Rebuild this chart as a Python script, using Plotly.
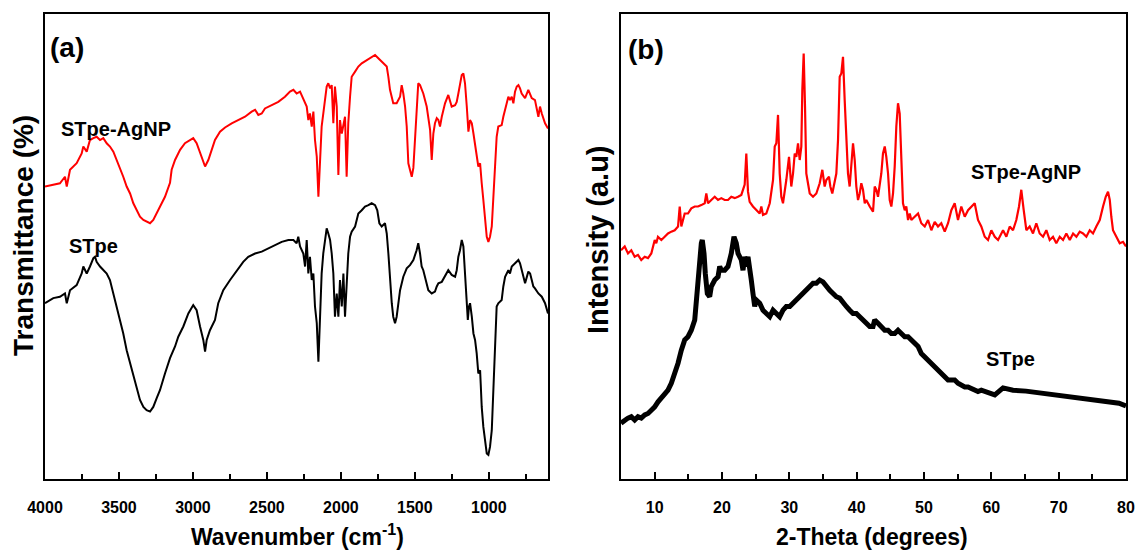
import plotly.graph_objects as go

# ---------------- FTIR (panel a) ----------------
ftir_wn_agnp = [4000,3944,3899,3865,3853,3831,3786,3752,3741,3718,
    3696,3673,3651,3628,3606,3583,3561,3538,3515,3493,
    3471,3448,3425,3403,3380,3358,3335,3313,3290,3268,
    3245,3223,3189,3155,3144,3121,3087,3054,3020,2998,
    2975,2941,2918,2896,2873,2851,2817,2783,2738,2693,
    2648,2603,2580,2558,2535,2513,2490,2468,2423,2378,
    2344,2321,2299,2276,2254,2231,2220,2209,2197,2186,
    2175,2163,2152,2141,2130,2119,2107,2096,2085,2073,
    2062,2051,2040,2028,2017,2006,1994,1983,1972,1961,
    1950,1938,1927,1904,1882,1859,1825,1792,1769,1747,
    1713,1690,1679,1668,1646,1623,1600,1589,1578,1566,
    1555,1544,1533,1521,1510,1499,1488,1477,1465,1443,
    1420,1409,1397,1386,1375,1364,1352,1341,1330,1318,
    1296,1274,1262,1251,1228,1217,1206,1195,1183,1172,
    1161,1149,1138,1127,1115,1104,1093,1082,1071,1059,
    1055,1048,1037,1026,1014,1003,992,980,969,958,
    947,936,913,902,890,868,857,845,834,823,
    811,800,789,778,755,733,710,688,665,654,
    642,620,600]
ftir_t_agnp = [62.9,63.2,63.6,65.0,62.9,66.5,67.9,70.0,71.5,70.4,
    72.9,73.3,73.6,72.9,73.3,72.2,71.5,70.4,68.6,66.8,
    65.0,62.9,61.4,59.3,57.8,56.4,55.7,55.3,55.0,55.7,
    57.1,58.6,60.7,63.7,66.5,68.6,70.8,72.2,72.9,73.3,
    72.2,69.3,67.2,68.6,70.8,72.9,74.7,75.6,76.5,77.2,
    77.9,79.0,79.4,78.3,78.6,79.7,80.1,80.4,81.1,82.2,
    83.3,83.7,82.9,83.3,81.9,80.1,77.2,78.6,75.8,79.0,
    72.9,69.3,60.7,68.6,75.8,78.6,82.2,84.4,85.1,84.0,
    84.7,76.5,84.4,80.1,65.4,77.2,74.3,76.5,77.9,65.0,
    76.5,82.2,86.5,87.6,88.7,89.4,90.1,90.8,91.2,90.5,
    89.4,88.7,86.5,83.7,80.8,80.8,82.2,84.7,82.9,80.1,
    75.8,67.9,66.5,65.0,66.9,72.9,80.1,85.1,84.7,82.9,
    80.1,77.2,75.1,68.6,74.3,76.5,77.6,77.2,75.8,77.9,
    80.8,82.6,81.5,80.1,80.4,81.1,82.9,85.1,86.9,87.2,
    85.1,80.1,74.7,77.2,76.5,74.3,72.2,70.0,67.2,67.9,
    65.7,63.6,60.0,56.4,52.1,51.0,52.1,54.3,60.0,67.2,
    73.6,75.8,76.1,77.9,79.4,82.2,81.5,82.2,80.8,83.3,
    84.4,84.7,84.0,82.9,81.9,83.7,81.9,81.5,77.9,80.1,
    78.6,76.5,75.4]

ftir_wn_stpe = [4000,3944,3899,3865,3853,3831,3786,3752,3741,3718,
    3696,3673,3662,3651,3628,3606,3583,3561,3538,3515,
    3493,3471,3448,3425,3403,3380,3358,3335,3313,3290,
    3268,3245,3223,3189,3155,3121,3099,3065,3031,2998,
    2975,2952,2930,2918,2907,2885,2851,2829,2795,2749,
    2704,2660,2626,2580,2535,2490,2445,2400,2355,2321,
    2299,2288,2276,2254,2242,2231,2220,2209,2197,2186,
    2175,2163,2152,2141,2130,2119,2107,2096,2085,2073,
    2062,2051,2040,2028,2017,2006,1994,1983,1972,1961,
    1950,1938,1927,1904,1882,1859,1837,1814,1792,1769,
    1754,1740,1724,1702,1690,1679,1668,1656,1646,1634,
    1623,1612,1600,1578,1555,1533,1510,1488,1477,1465,
    1454,1443,1431,1420,1409,1386,1364,1352,1341,1318,
    1296,1274,1251,1228,1217,1206,1195,1183,1172,1161,
    1149,1142,1134,1127,1115,1104,1093,1082,1071,1059,
    1055,1048,1037,1026,1014,1003,992,980,969,958,
    947,936,913,902,890,868,857,845,823,800,
    789,778,755,733,721,710,699,688,665,642,
    620,600]
ftir_t_stpe = [37.8,38.9,39.2,39.9,37.8,40.6,41.7,44.2,45.7,44.2,
    45.7,47.5,47.8,46.7,45.7,44.9,44.2,42.8,39.9,37.1,
    34.2,31.3,27.7,24.9,22.0,19.1,17.0,15.5,14.8,14.5,
    15.5,17.4,19.1,22.7,26.0,28.5,30.6,32.8,35.6,37.4,
    36.3,32.8,29.9,27.4,29.9,32.0,34.2,37.8,40.6,42.8,
    44.9,46.7,47.8,48.5,48.9,49.6,50.3,51.0,51.4,51.4,
    50.7,52.1,50.0,48.5,45.7,51.4,44.2,47.8,42.8,44.2,
    37.1,33.5,25.2,35.6,44.2,48.5,51.4,53.9,52.8,51.4,
    48.5,44.2,34.9,39.9,34.9,42.8,37.1,44.2,34.9,42.8,
    48.5,52.1,53.2,54.3,57.1,57.8,58.6,58.9,59.3,58.9,
    57.8,55.0,54.3,55.0,52.8,48.5,42.8,37.8,34.9,33.5,
    34.9,37.8,40.6,43.5,45.3,46.0,47.1,49.2,50.7,48.5,
    45.7,44.9,43.5,42.1,40.6,39.9,40.3,41.4,42.1,42.4,
    43.5,44.9,43.9,43.5,44.9,47.8,49.2,51.4,50.0,44.2,
    38.5,34.2,37.1,37.8,34.9,31.3,29.9,27.0,22.7,23.4,
    20.6,15.5,11.2,7.7,5.5,5.2,6.9,10.5,19.1,29.9,
    37.1,37.8,38.5,41.4,43.5,44.9,44.2,45.7,46.4,47.1,
    46.4,44.9,42.1,44.6,44.2,42.8,41.4,41.0,39.9,39.2,
    37.8,35.6]

# ---------------- XRD (panel b) ----------------
xrd_2t_agnp = [5.0,5.55,6.04,6.53,7.03,7.52,8.01,8.52,9.01,9.50,
    10.01,10.24,10.49,10.99,11.49,11.98,12.47,12.98,13.47,13.72,
    13.96,14.46,14.95,15.44,15.95,16.44,16.93,17.43,17.67,17.92,
    18.41,18.92,19.41,19.90,20.40,20.89,21.38,21.89,22.38,22.87,
    23.37,23.61,23.86,24.11,24.60,25.09,25.60,25.84,26.09,26.58,
    27.09,27.58,27.83,28.07,28.32,28.57,28.81,29.06,29.31,29.55,
    29.95,30.14,30.29,30.55,30.80,31.04,31.29,31.54,31.78,31.93,
    32.13,32.33,32.52,32.77,33.03,33.52,34.01,34.51,34.90,35.25,
    35.49,35.89,36.09,36.38,36.74,36.98,37.23,37.48,37.72,37.97,
    38.22,38.46,38.71,38.96,39.20,39.46,39.71,39.95,40.20,40.45,
    40.69,40.94,41.20,41.43,41.94,42.43,42.68,42.92,43.17,43.42,
    43.66,43.91,44.17,44.40,44.66,44.91,45.15,45.40,45.65,45.89,
    46.14,46.39,46.63,46.88,47.14,47.37,47.63,47.88,48.12,48.63,
    49.12,49.60,50.11,50.60,51.09,51.59,52.08,52.57,53.08,53.57,
    54.06,54.56,54.80,55.05,55.54,56.05,56.54,57.03,57.53,58.02,
    58.51,59.02,59.51,60.00,60.51,61.00,61.74,62.23,62.73,63.22,
    63.71,64.11,64.45,64.81,65.20,65.70,66.19,66.68,67.18,67.68,
    68.17,68.67,69.16,69.65,70.16,70.65,71.14,71.65,72.14,72.63,
    73.13,73.62,74.11,74.61,75.10,75.59,76.10,76.59,76.99,77.33,
    77.59,77.82,78.07,78.57,79.07,79.56,80.0]
xrd_i_agnp = [49.2,50.0,48.5,49.2,47.8,48.2,47.1,47.8,47.5,48.5,
    51.4,50.7,52.1,51.4,52.1,52.8,53.2,53.5,54.3,58.6,
    54.3,57.1,57.1,58.2,58.6,58.6,58.9,59.3,61.4,59.3,
    60.0,60.7,60.0,60.4,60.0,60.0,60.7,60.4,60.7,61.1,
    63.3,70.0,61.8,59.6,58.6,57.8,57.1,58.6,56.8,57.1,
    59.3,64.3,71.5,72.2,78.3,65.7,60.7,59.3,61.4,64.3,
    69.3,64.3,62.9,65.7,70.0,69.3,72.2,68.6,71.5,83.7,
    91.5,80.1,65.7,63.6,61.4,60.7,61.4,63.6,66.5,62.9,
    64.3,65.0,62.9,61.4,64.3,65.7,72.9,86.5,87.2,90.8,
    81.5,72.9,65.7,62.9,67.2,72.2,68.6,62.9,60.0,61.4,
    63.6,62.2,59.3,60.0,58.6,57.5,62.9,62.2,60.7,62.9,
    65.7,70.0,71.5,69.3,65.7,60.0,58.6,61.4,67.2,75.8,
    80.8,78.6,67.2,59.3,57.8,58.6,55.7,57.1,55.7,56.4,
    57.1,55.0,54.3,55.7,53.5,55.3,54.3,55.0,53.2,55.0,
    57.8,59.3,57.1,55.7,58.6,56.4,57.8,58.6,59.3,55.7,
    54.3,52.1,51.4,53.5,52.1,51.4,53.5,52.1,54.3,53.5,
    55.7,58.6,62.2,57.8,53.5,54.3,52.8,55.0,52.8,52.1,
    53.5,51.4,52.1,50.7,52.1,51.4,52.8,51.4,52.8,52.1,
    53.2,52.8,52.1,53.5,52.8,54.3,55.7,58.6,60.7,61.8,
    60.0,56.4,53.5,52.1,50.7,51.0,50.0]

xrd_2t_stpe = [5.0,5.55,6.04,6.53,7.03,7.52,8.01,8.52,9.01,9.50,
    10.01,10.50,10.99,11.49,11.98,12.47,12.98,13.47,13.96,14.46,
    14.95,15.44,15.95,16.18,16.44,16.69,16.93,17.07,17.33,17.52,
    17.82,18.17,18.41,18.92,19.41,19.66,19.90,20.40,20.89,21.38,
    21.78,22.12,22.38,22.87,23.12,23.37,23.61,23.86,24.11,24.35,
    24.60,24.86,25.09,25.60,26.09,26.58,27.09,27.58,28.07,28.57,
    29.06,29.55,30.06,30.55,31.04,31.54,32.03,32.52,33.03,33.52,
    34.01,34.51,35.00,35.49,36.00,36.49,36.98,37.48,37.97,38.46,
    38.97,39.46,39.95,40.45,40.94,41.43,41.94,42.43,42.68,43.17,
    43.66,44.17,44.66,45.15,45.65,46.14,46.63,47.14,47.63,48.12,
    48.63,49.12,49.60,50.11,50.60,51.09,51.59,52.08,52.57,53.08,
    53.57,54.06,54.56,55.05,55.54,56.05,56.54,57.03,57.53,58.02,
    58.51,59.02,59.51,60.00,60.51,61.74,63.22,65.15,67.23,69.16,
    71.09,73.17,75.10,77.03,78.96,80.0]
xrd_i_stpe = [12.0,12.7,13.1,13.4,12.7,13.4,13.1,13.8,14.1,14.8,
    15.5,16.6,17.4,18.4,19.1,20.6,22.7,24.9,27.7,29.9,
    30.6,32.0,34.2,38.5,42.8,47.1,50.7,51.4,48.5,44.2,
    39.9,39.2,41.4,42.8,43.5,45.7,44.9,44.9,45.7,48.5,
    52.1,50.7,48.5,47.1,44.9,47.8,45.7,47.8,45.7,42.8,
    39.9,37.1,38.5,37.8,36.3,35.6,34.9,36.3,35.6,34.9,
    36.3,37.1,37.1,37.8,38.5,39.2,39.9,40.6,41.4,42.1,
    42.1,42.8,42.4,41.4,40.6,39.9,39.2,38.9,37.8,37.1,
    36.3,35.6,35.6,34.9,34.2,33.5,32.8,32.8,34.2,33.5,
    32.8,32.0,32.0,31.3,31.3,32.0,31.3,30.6,30.6,29.9,
    29.2,28.5,27.0,26.3,25.6,24.9,24.2,23.4,22.7,22.0,
    21.3,21.3,21.3,20.6,20.2,19.8,19.8,19.5,19.1,18.8,
    19.1,18.8,18.4,18.4,18.1,19.6,19.1,18.9,18.5,18.1,
    17.8,17.4,17.2,16.8,16.3,15.7]

ftir_ticks = [4000, 3500, 3000, 2500, 2000, 1500, 1000]
xrd_ticks = [10, 20, 30, 40, 50, 60, 70, 80]

RED = "#FF0000"
FONT = "Liberation Sans Narrow, Arial Narrow, Liberation Sans, Arial, sans-serif"
WIDE = "Liberation Sans, Arial, sans-serif"

W, H = 1136, 552
def px(x):
    return x / W
def py(y):
    return 1 - y / H

fig = go.Figure()
fig.add_trace(go.Scatter(x=ftir_wn_agnp, y=ftir_t_agnp, mode="lines",
                         line=dict(color=RED, width=2), xaxis="x", yaxis="y"))
fig.add_trace(go.Scatter(x=ftir_wn_stpe, y=ftir_t_stpe, mode="lines",
                         line=dict(color="black", width=2), xaxis="x", yaxis="y"))
fig.add_trace(go.Scatter(x=xrd_2t_agnp, y=xrd_i_agnp, mode="lines",
                         line=dict(color=RED, width=2.2), xaxis="x2", yaxis="y2"))
fig.add_trace(go.Scatter(x=xrd_2t_stpe, y=xrd_i_stpe, mode="lines",
                         line=dict(color="black", width=5), xaxis="x2", yaxis="y2"))

ydom = [py(479), py(14)]
common_x = dict(showline=True, linecolor="black", linewidth=2, mirror=True,
                ticks="inside", ticklen=7, tickwidth=1.5, tickcolor="black",
                showgrid=False, zeroline=False, automargin=False,
                ticklabelstandoff=13,
                tickfont=dict(family=FONT, size=16, color="black", weight="bold"))
common_y = dict(showline=True, linecolor="black", linewidth=2, mirror=True,
                ticks="", showticklabels=False, showgrid=False, zeroline=False,
                automargin=False, range=[0, 100])

fig.update_layout(
    width=W, height=H, autosize=False, margin=dict(l=0, r=0, t=0, b=0, pad=0),
    paper_bgcolor="white", plot_bgcolor="white", showlegend=False,
    xaxis=dict(domain=[px(45), px(548)], range=[4000, 600], anchor="y",
               tickvals=ftir_ticks,
               minor=dict(dtick=250, tick0=0, ticks="inside", ticklen=5,
                          tickwidth=1.5, tickcolor="black"),
               **common_x),
    yaxis=dict(domain=ydom, anchor="x", **common_y),
    xaxis2=dict(domain=[px(621), px(1126)], range=[5, 80], anchor="y2",
                tickvals=xrd_ticks,
                minor=dict(dtick=5, tick0=0, ticks="inside", ticklen=5,
                           tickwidth=1.5, tickcolor="black"),
                **common_x),
    yaxis2=dict(domain=ydom, anchor="x2", **common_y),
)

def ann(text, x, y, size, family=FONT, angle=0):
    fig.add_annotation(text=f"<b>{text}</b>", x=px(x), y=py(y), xref="paper", yref="paper",
                       showarrow=False, xanchor="center", yanchor="middle",
                       textangle=angle, font=dict(family=family, size=size, color="black"))

ann("(a)", 67, 47, 28)
ann("(b)", 646, 49, 28)
ann("STpe-AgNP", 116, 129, 20)
ann("STpe", 93, 246, 20)
ann("STpe-AgNP", 1026, 172, 20)
ann("STpe", 1010, 359, 20)
ann("Transmittance (%)", 23, 236, 28, family=WIDE, angle=-90)
ann("Intensity (a.u)", 598, 240, 29, family=WIDE, angle=-90)
ann("Wavenumber (cm<sup>-1</sup>)", 297, 535, 23)
ann("2-Theta (degrees)", 872, 537, 23)

fig.write_html("out.html", config={"displayModeBar": False},
               post_script="document.body.style.margin='0';document.body.style.overflow='hidden';")
